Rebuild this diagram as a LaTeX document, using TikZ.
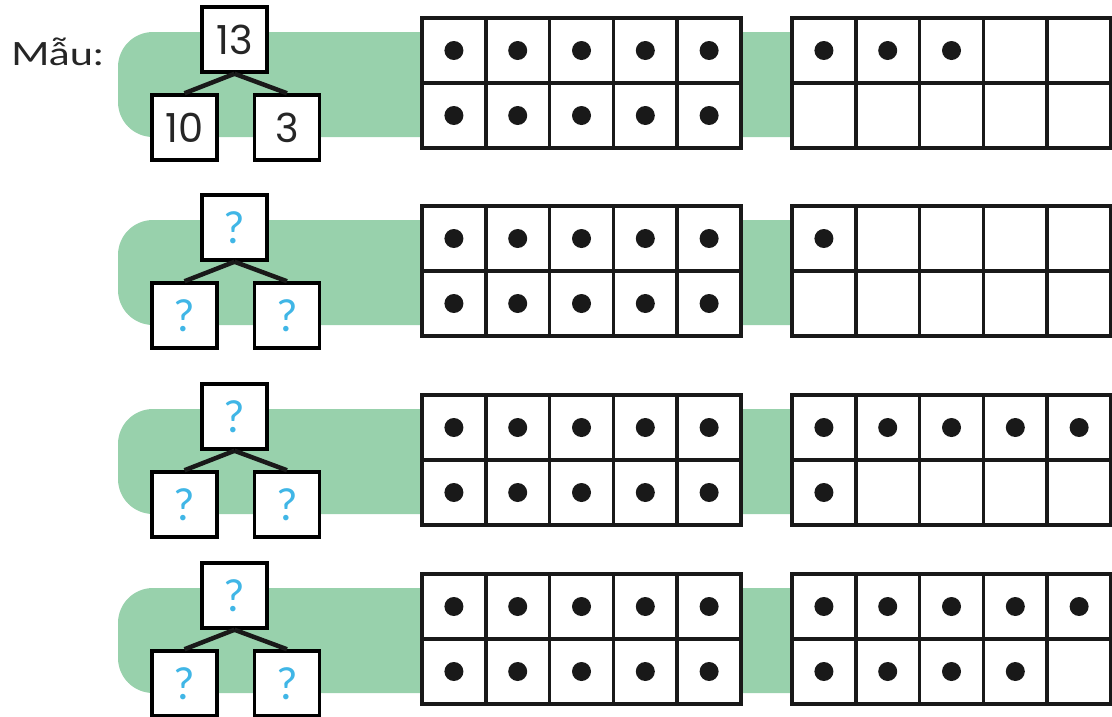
\documentclass[tikz,border=0pt]{standalone}
\usepackage{fontspec}
\setmainfont{Lato}
\newfontfamily\maufont[FakeStretch=1.3]{Lato}
\newfontfamily\digfont{Poppins}
\newfontfamily\qfont{Lato}
\definecolor{bandgreen}{RGB}{152,209,172}
\definecolor{qblue}{RGB}{64,182,230}
\newcommand{\tenframe}[4]{%
  \fill[white] (#1,#2) rectangle ++(319,130);
  \foreach \i in {0,...,4}{%
    \ifnum\i<#3 \fill[dotfill] ({#1+31.9+\i*63.8},{#2+32.5}) circle (9.5);\fi
    \ifnum\i<#4 \fill[dotfill] ({#1+31.9+\i*63.8},{#2+97.5}) circle (9.5);\fi
  }
  \foreach \i in {1,...,4}{\draw[gridline] ({#1+\i*63.8},#2) -- ++(0,130);}
  \draw[gridline] (#1,#2+65) -- ++(319,0);
  \draw[gridline] (#1,#2) rectangle ++(319,130);
}
\begin{document}
\begin{tikzpicture}[x=1pt,y=-1pt,
  numbox/.style={draw=black, line width=3.5pt, fill=white, minimum width=65pt,
    minimum height=65pt, inner sep=0pt, text=black!85,
    font=\digfont\fontsize{40}{40}\selectfont},
  qbox/.style={numbox, text=qblue, font=\qfont\fontsize{44}{44}\selectfont},
  branch/.style={line width=4.5pt, draw=black!90},
  band/.style={fill=bandgreen, rounded corners=35pt},
  gridline/.style={draw=black!90, line width=3.5pt},
  dotfill/.style={fill=black!90}]
\useasboundingbox (0,0) rectangle (1112,716);
% green bands
\begin{scope}
  \clip (0,0) rectangle (1112,716);
  \foreach \t in {7,195,384,563}{
    \fill[band] (118,{\t+25}) rectangle (1170,{\t+130});
  }
\end{scope}
% label
\node[anchor=base west, inner sep=0pt, font=\maufont\fontsize{32}{32}\selectfont, text=black!85] (mau) at (11,65) {Mẫu:};
% ten frames
\tenframe{422}{18}{5}{5}
\tenframe{792}{18}{3}{0}
\tenframe{422}{206}{5}{5}
\tenframe{792}{206}{1}{0}
\tenframe{422}{395}{5}{5}
\tenframe{792}{395}{5}{1}
\tenframe{422}{574}{5}{5}
\tenframe{792}{574}{5}{4}
% sample tree
\node[numbox] (top1) at (234.5,39.5) {13};
\node[numbox] (left1) at (184.5,127.5) {10};
\node[numbox] (right1) at (287,127.5) {3};
\draw[branch] (top1.south) -- (left1.north);
\draw[branch] (top1.south) -- (right1.north);
% exercise trees
\foreach \r/\t in {2/195,3/384,4/563}{
  \node[qbox] (top\r) at (234.5,{\t+32.5}) {?};
  \node[qbox] (left\r) at (184.5,{\t+120.5}) {?};
  \node[qbox] (right\r) at (287,{\t+120.5}) {?};
  \draw[branch] (top\r.south) -- (left\r.north);
  \draw[branch] (top\r.south) -- (right\r.north);
}
\end{tikzpicture}
\end{document}
